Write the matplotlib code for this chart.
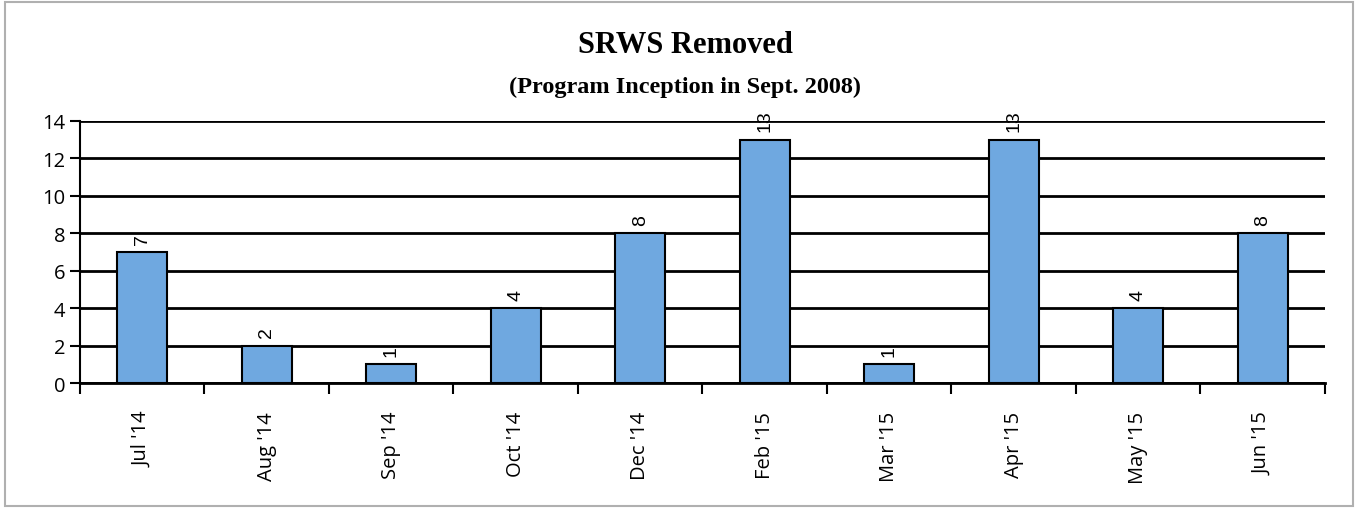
import numpy as np
import matplotlib.pyplot as plt
from matplotlib.patches import Rectangle

months = ["Jul '14", "Aug '14", "Sep '14", "Oct '14", "Dec '14",
          "Feb '15", "Mar '15", "Apr '15", "May '15", "Jun '15"]
removed = [7, 2, 1, 4, 8, 13, 1, 13, 4, 8]
yticks = [0, 2, 4, 6, 8, 10, 12, 14]

fig = plt.figure(figsize=(13.58, 5.1), dpi=100)
# grey outer frame like the pasted chart
fig.patches.append(Rectangle((0.004, 0.006), 0.992, 0.988, transform=fig.transFigure,
                             fill=False, edgecolor='#b0b0b0', linewidth=1.5))
ax = fig.add_axes([0.0589, 0.247, 0.9168, 0.514])

x = np.arange(len(months))
ax.set_axisbelow(True)
ax.yaxis.grid(True, color='black', linewidth=2)
ax.bar(x, removed, width=0.4, color='#6fa8e0', edgecolor='black', linewidth=1.5, zorder=3)
for xi, v in zip(x, removed):
    ax.text(xi, v + 0.45, str(v), rotation=90, ha='center', va='bottom',
            fontsize=14, family='Liberation Sans', zorder=4)

ax.set_xlim(-0.5, len(months) - 0.5)
ax.set_ylim(0, 14)
ax.set_yticks(yticks)
ax.tick_params(axis='y', labelsize=14.5, length=7, width=1.5, direction='out')
ax.set_xticks(x)
ax.set_xticklabels(months, rotation=90, fontsize=14.5, family='Open Sans')
ax.set_xticks(np.arange(len(months) + 1) - 0.5, minor=True)
ax.tick_params(axis='x', which='major', length=0, pad=20)
ax.tick_params(axis='x', which='minor', length=8, width=1.5, direction='out')
for lbl in ax.get_yticklabels():
    lbl.set_family('Open Sans')

for s in ['top', 'right']:
    ax.spines[s].set_visible(False)
ax.spines['left'].set_linewidth(1.5)
ax.spines['bottom'].set_linewidth(2)

fig.text(0.5045, 0.91, 'SRWS Removed', ha='center', va='center',
         fontsize=22, fontweight='bold', family='Liberation Serif')
fig.text(0.5045, 0.828, '(Program Inception in Sept. 2008)', ha='center', va='center',
         fontsize=17.5, fontweight='bold', family='Liberation Serif')

fig.savefig('out.png', dpi=100)
